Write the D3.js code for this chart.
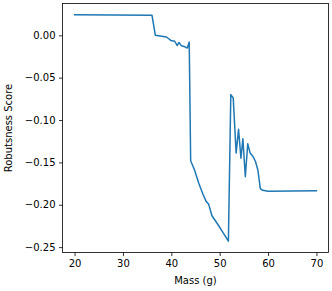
<!DOCTYPE html>
<html>
<head>
<meta charset="utf-8">
<script src="https://cdn.jsdelivr.net/npm/d3@7"></script>
<style>
  body { margin: 0; background: #fff; }
  svg { display: block; font-family: "DejaVu Sans", sans-serif; }
  .axis text { font-size: 10px; fill: #000; font-family: "DejaVu Sans", sans-serif; }
  .axis path, .axis line { stroke: #000; stroke-width: 0.8; }
</style>
</head>
<body>
<svg></svg>
<script>
const mass = [20, 36.0, 36.7, 39.0, 39.9, 40.7, 41.2, 41.6, 42.1, 42.8, 43.3, 43.7,
              44.0, 44.8, 45.7, 46.5, 47.2, 47.7, 48.4, 49.6, 50.6, 51.8,
              52.3, 52.8, 53.4, 53.9, 54.4, 54.8, 55.3, 55.8, 56.3, 56.9, 57.4,
              57.9, 58.4, 58.9, 60.0, 70.0],
      score = [0.0242, 0.0237, 0.0000, -0.0020, -0.0060, -0.0070, -0.0120, -0.0085, -0.0124, -0.0136, -0.0150, -0.0080,
               -0.1480, -0.1590, -0.1750, -0.1870, -0.1960, -0.1990, -0.2130, -0.2230, -0.2320, -0.2430,
               -0.0700, -0.0740, -0.1390, -0.1110, -0.1450, -0.1220, -0.1670, -0.1280, -0.1390, -0.1430, -0.1490,
               -0.1590, -0.1810, -0.1830, -0.1840, -0.1835],
      xTicks = [20, 30, 40, 50, 60, 70],
      yTicks = [0.00, -0.05, -0.10, -0.15, -0.20, -0.25];

const width = 332,
      height = 291,
      margin = {top: 3.5, right: 3.5, bottom: 38.5, left: 62.5},
      data = mass.map((m, i) => ({mass: m, score: score[i]})),
      xExt = d3.extent(mass),
      yExt = d3.extent(score),
      xPad = (xExt[1] - xExt[0]) * 0.05,
      yPad = (yExt[1] - yExt[0]) * 0.05,
      xScale = d3.scaleLinear()
                 .domain([xExt[0] - xPad, xExt[1] + xPad])
                 .range([margin.left, width - margin.right]),
      yScale = d3.scaleLinear()
                 .domain([yExt[0] - yPad, yExt[1] + yPad])
                 .range([height - margin.bottom, margin.top]),
      xAxis = d3.axisBottom(xScale)
                .tickValues(xTicks)
                .tickSize(3.5)
                .tickPadding(3.5)
                .tickSizeOuter(0),
      yAxis = d3.axisLeft(yScale)
                .tickValues(yTicks)
                .tickSize(3.5)
                .tickPadding(3.5)
                .tickSizeOuter(0)
                .tickFormat((d) => d3.format('.2f')(d).replace('-', '\u2212'));

const svg = d3.select('svg')
    .attr('width', width)
    .attr('height', height);

svg.append('path')
    .datum(data)
    .attr('fill', 'none')
    .attr('stroke', '#1f77b4')
    .attr('stroke-width', 1.5)
    .attr('stroke-linejoin', 'round')
    .attr('stroke-linecap', 'square')
    .attr('d', d3.line()
                 .x((d) => xScale(d.mass))
                 .y((d) => yScale(d.score)));

svg.append('g')
    .attr('class', 'axis')
    .attr('transform', `translate(0, ${height - margin.bottom})`)
    .call(xAxis)
  .select('.domain').remove();

svg.append('g')
    .attr('class', 'axis')
    .attr('transform', `translate(${margin.left}, 0)`)
    .call(yAxis)
  .select('.domain').remove();

// frame
svg.append('rect')
    .attr('x', margin.left)
    .attr('y', margin.top)
    .attr('width', width - margin.left - margin.right)
    .attr('height', height - margin.top - margin.bottom)
    .attr('fill', 'none')
    .attr('stroke', '#000')
    .attr('stroke-width', 0.8);

svg.append('text')
    .text('Mass (g)')
    .attr('x', (margin.left + width - margin.right) / 2)
    .attr('y', 284)
    .style('font-size', '10px')
    .style('text-anchor', 'middle');

svg.append('text')
    .text('Robutsness Score')
    .attr('transform', 'rotate(-90)')
    .attr('x', - (margin.top + height - margin.bottom) / 2)
    .attr('y', 12)
    .style('font-size', '10px')
    .style('text-anchor', 'middle');
</script>
</body>
</html>
